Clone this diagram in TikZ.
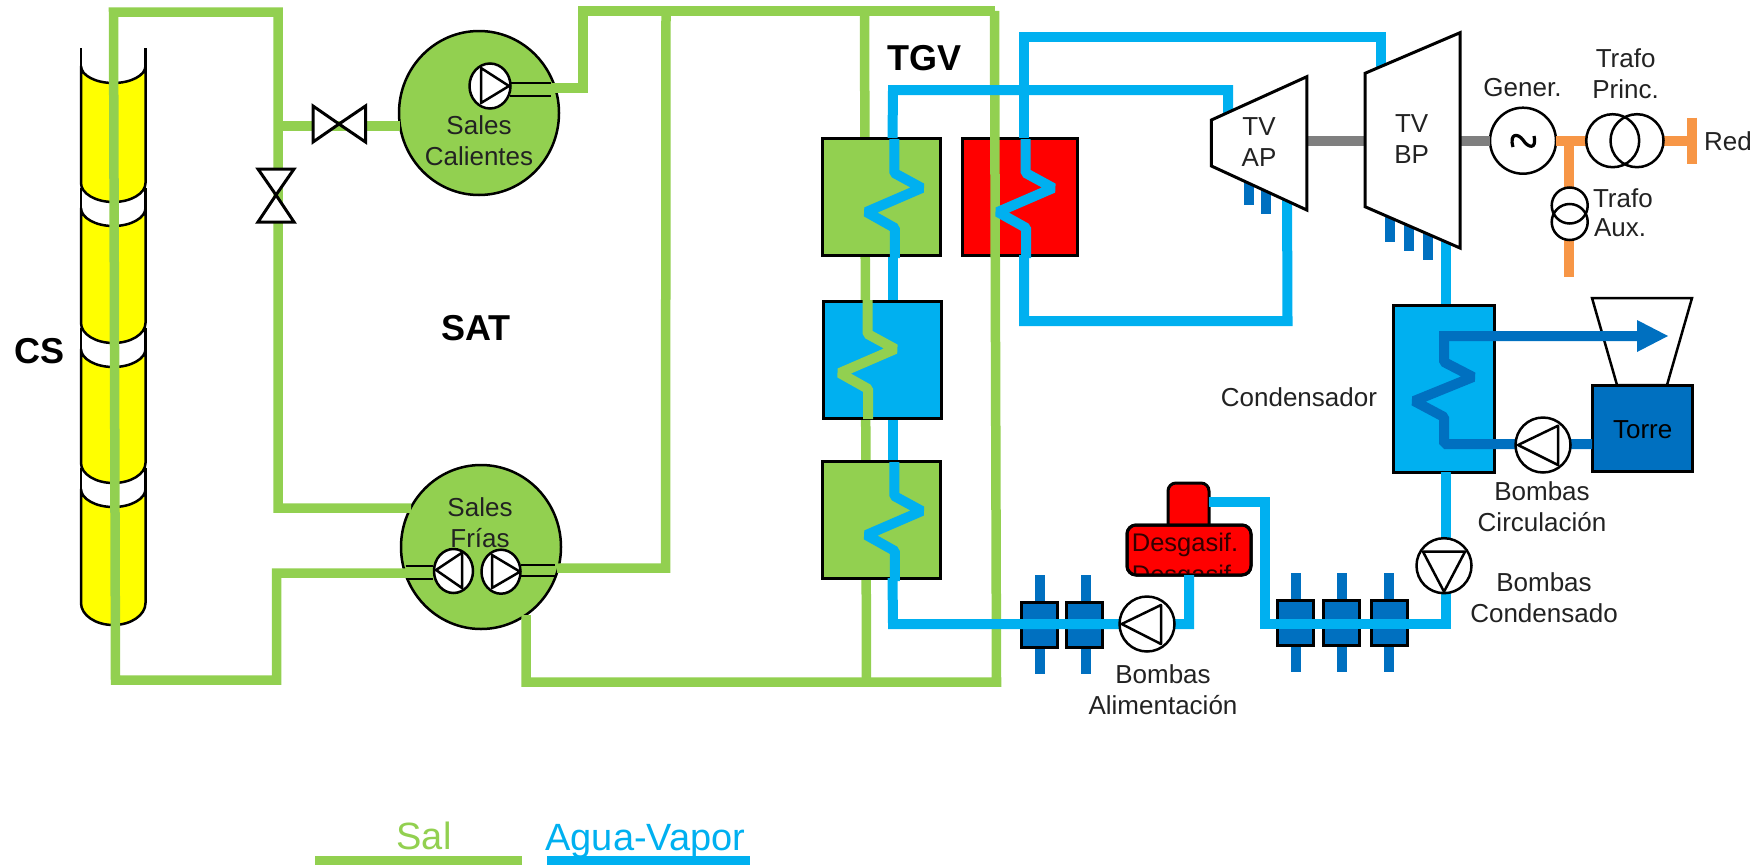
\documentclass[tikz,border=0pt]{standalone}
\usepackage{fontspec}
\setmainfont{Liberation Sans}
\usetikzlibrary{shapes.geometric}
\definecolor{salt}{RGB}{146,208,80}
\definecolor{water}{RGB}{0,176,240}
\definecolor{cool}{RGB}{0,112,192}
\definecolor{elec}{RGB}{247,150,70}
\definecolor{shaft}{RGB}{127,127,127}
\definecolor{inktext}{RGB}{34,34,34}
\definecolor{sun}{RGB}{255,255,0}
\definecolor{hotred}{RGB}{255,0,0}
\newcommand{\csseg}[5]{%
  \draw[black,line width=2.5] (81,#1) -- (81,#2) (145.5,#1) -- (145.5,#2);
  \draw[black,fill=sun,line width=2.5]
    (81,#2) .. controls (81,{#2+.55*(#3-#2)}) and (95.5,#3) .. (113.25,#3)
    .. controls (131,#3) and (145.5,{#2+.55*(#3-#2)}) .. (145.5,#2)
    -- (145.5,#4)
    .. controls (145.5,{#4+.55*(#5-#4)}) and (131,#5) .. (113.25,#5)
    .. controls (95.5,#5) and (81,{#4+.55*(#5-#4)}) .. (81,#4) -- cycle;}
\newcommand{\coil}[3]{%
  \draw[#1,line width=10,line join=bevel] (#2,#3) -- ++(0,34) -- ++(27.5,15) -- ++(-55.5,24) -- ++(28.5,16) -- ++(0,30);}
\tikzset{
  sal/.style={salt,line width=9.5,line join=miter},
  wat/.style={water,line width=10,line join=miter},
  cld/.style={cool,line width=10,line join=bevel},
  ele/.style={elec,line width=10},
  gry/.style={shaft,line width=10},
  tank/.style={ellipse,draw=black,fill=salt,line width=2.5,minimum width=160,minimum height=164,inner sep=0,outer sep=0},
  tpump/.style={ellipse,draw=black,fill=white,line width=2.5,minimum width=41,minimum height=45,inner sep=0,outer sep=0},
  pumpc/.style={circle,draw=black,fill=white,line width=2.5,minimum size=55,inner sep=0,outer sep=0},
  tri/.style={draw=black,line width=2.5,line join=round},
  hxbox/.style={rectangle,draw=black,line width=3,minimum width=118,minimum height=117,inner sep=0,outer sep=0},
  heater/.style={rectangle,draw=black,fill=cool,line width=3,minimum width=36,minimum height=45,inner sep=0,outer sep=0},
  turb/.style={draw=black,fill=white,line width=3,line join=miter},
  vlv/.style={draw=black,fill=white,line width=3,line join=miter},
  thin/.style={black,line width=1.5},
  lab/.style={text=inktext,font=\fontsize{26}{31}\selectfont,align=center,inner sep=0,outer sep=0},
  big/.style={text=black,font=\bfseries\fontsize{36}{40}\selectfont,inner sep=0,outer sep=0},
  leg/.style={font=\fontsize{38}{42}\selectfont,inner sep=0,outer sep=0},
  tra/.style={circle,draw=black,line width=2.5,inner sep=0,outer sep=0}
}
\begin{document}
\begin{tikzpicture}[x=1pt,y=-1pt]
\useasboundingbox (0,0) rectangle (1761,865);

% Solar collector
\csseg{468}{489}{507}{603}{625}
\csseg{328}{349}{367}{463}{483}
\csseg{188}{208}{226}{323}{343}
\csseg{48}{66}{83}{183}{202}

% Tanks
\node[tank] (hot) at (479,113) {};
\node[tank] (cold) at (481,547) {};

% Named pipe ends
\coordinate (hotIn) at (400,126);
\coordinate (hotOut) at (551,88);
\coordinate (coldBack) at (411,508);
\coordinate (coldBot) at (526,615);
\coordinate (pumpLeftW) at (433,573);
\coordinate (coldOut) at (557,568);

% Salt pipes, first layer
\draw[sal] (hotIn) -- (278,126);
\draw[sal] (coldBack) -- (278,508) -- (278,12) -- (113.5,12) -- (115.5,680) -- (276.5,680) -- (276.5,573) -- (pumpLeftW);
\draw[sal] (hotOut) -- (583,88) -- (583,11) -- (994.5,11);
\draw[sal] (coldOut) -- (665.5,568) -- (666,11);
\draw[sal] (864.5,11) -- (866.5,682);

% Water link between exchangers (behind the boxes)
\draw[wat] (892.5,255) -- (892.5,462);

% Heat exchangers
\node[hxbox,fill=salt] (hxa) at (881,196.5) {};
\node[hxbox,fill=water] (hxb) at (882.5,359.5) {};
\node[hxbox,fill=salt] (hxc) at (881,520) {};
\node[hxbox,fill=hotred,minimum width=115] (hxr) at (1019.5,196.5) {};

% Salt pipe over the red box
\draw[sal] (994.5,11) -- (996.5,682) -- (526,682) -- (coldBot);

% Valves
\draw[vlv] (313,106) -- (339,124) -- (313,142) -- cycle;
\draw[vlv] (365.5,106) -- (339,124) -- (365.5,142) -- cycle;
\draw[vlv] (258,169) -- (294,169) -- (276,195) -- cycle;
\draw[vlv] (258,222) -- (294,222) -- (276,195) -- cycle;

% Pumps in tanks
\draw[thin] (510,83) -- (551,83) (510,96) -- (551,96);
\node[tpump] (phot) at (490,86) {};
\draw[tri] (481,68) -- (509,86) -- (481,103) -- cycle;
\draw[thin] (405.7,566) -- (433,566) (405.7,579) -- (433,579);
\draw[thin] (521,565) -- (555,565) (521,576) -- (555,576);
\node[tpump,minimum width=39,minimum height=44] (pcl) at (453.5,571) {};
\draw[tri] (436,570) -- (462,552.7) -- (462,588) -- cycle;
\node[tpump,minimum width=39,minimum height=44] (pcr) at (501,571.7) {};
\draw[tri] (492,555) -- (520,571.7) -- (492,588) -- cycle;

% Generator, shafts, extractions and steam lines behind the turbines
\node[circle,draw=black,line width=2.5,minimum size=66,inner sep=0,outer sep=0] (gen) at (1523,140.7) {};
\coordinate (apE) at (1306,140.7);
\coordinate (bpW) at (1366,140.7);
\coordinate (bpE) at (1459,140.7);
\draw[gry] (apE) -- (bpW);
\draw[gry] (bpE) -- (gen.west);
\foreach \xx/\yy in {1248.6/205,1266/214,1389.6/241.7,1409/250.7,1428/260}{
  \draw[cool,line width=10] (\xx,170) -- (\xx,\yy);}
\coordinate (apIn) at (1228,113);
\coordinate (apOut) at (1287,190);
\coordinate (bpIn) at (1380.6,72);
\coordinate (bpOut) at (1446,230);
\draw[wat] (892.5,138) -- (893,90) -- (1228,90) -- (apIn);
\draw[wat] (1024,138) -- (1024,37) -- (1380.6,37) -- (bpIn);
\draw[wat] (1024,255) -- (1024,321) -- (1287.5,321) -- (apOut);
\draw[wat] (bpOut) -- (1446,305);

\coil{water}{894.3}{139}
\coil{water}{1025.7}{139}
\coil{salt}{867.7}{300}
\coil{water}{894.3}{462}

\draw[turb] (1211.4,120) -- (1306.8,76.7) -- (1306.8,210) -- (1211.4,166) -- cycle;
\draw[turb] (1365,73.3) -- (1460,32.7) -- (1460,248) -- (1365,206.7) -- cycle;
\node[lab] (tvap) at (1259,142) {TV\\AP};
\node[lab] (tvbp) at (1411.6,139.5) {TV\\BP};

% Electrical side
\draw[black,line width=3.2] (1513,147) .. controls (1509,133) and (1518,133) .. (1523,140) .. controls (1528,148) and (1537,150) .. (1534,136);
\coordinate (redBar) at (1691.5,140.7);
\draw[ele] (gen.east) -- (1586,140.7);
\draw[ele] (1569,140.7) -- (1569,187);
\draw[ele] (1569,240) -- (1569,276.7);
\draw[ele] (1662,140.7) -- (redBar);
\draw[ele] (1691.5,117.7) -- (1691.5,164.3);
\node[tra,minimum size=53] (tp1) at (1612.7,140.7) {};
\node[tra,minimum size=53] (tp2) at (1637,140.7) {};
\node[tra,minimum size=36] (ta1) at (1569.7,205.5) {};
\node[tra,minimum size=36] (ta2) at (1569.7,222) {};

% Condenser and tower
\node[rectangle,draw=black,fill=water,line width=3,minimum width=101,minimum height=167,inner sep=0,outer sep=0] (cond) at (1443.5,388.5) {};
\draw[black,fill=white,line width=2.5,line join=miter] (1592,298) -- (1692,298) -- (1667,385) -- (1617,385) -- cycle;
\node[rectangle,draw=black,fill=cool,line width=3,minimum width=100,minimum height=86,inner sep=0,outer sep=0] (torre) at (1642,428) {};
\draw[cld] (1592,444) -- (1444,444) -- (1444,417) -- (1414,401) -- (1473,377) -- (1444,362) -- (1444,331) (1439,336) -- (1637,336);
\fill[cool] (1637,320) -- (1668,336) -- (1637,352) -- cycle;
\node[pumpc] (pcirc) at (1543,445) {};
\draw[tri] (1518,445) -- (1558,425.7) -- (1558,465) -- cycle;

% Feedwater train
\foreach \xx in {1040,1085.7}{
  \draw[cool,line width=10] (\xx,575) -- (\xx,674);}
\node[heater] (fa) at (1039,624.5) {};
\node[heater] (fb) at (1084.5,624.5) {};
\foreach \xx in {1296,1341.5,1389}{
  \draw[cool,line width=10] (\xx,573) -- (\xx,672);}
\node[heater] (fc) at (1295.5,623) {};
\node[heater] (fd) at (1341,623) {};
\node[heater] (fe) at (1389,623) {};

\node[rectangle,rounded corners=8,draw=black,fill=hotred,line width=3,minimum width=41,minimum height=50,inner sep=0,outer sep=0] (dome) at (1188.5,508) {};
\coordinate (domeOut) at (1209,502);
\coordinate (condBot) at (1446,472);
\node[rectangle,rounded corners=9,draw=black,fill=hotred,line width=3,minimum width=124,minimum height=50,inner sep=0,outer sep=0] (dg) at (1189,550) {};
\begin{scope}
  \clip[rounded corners=9] (1127,525) rectangle (1251,575);
  \node[font=\fontsize{25.5}{30}\selectfont,text=black!80!hotred,inner sep=0] (dg1) at (1185,545) {Desgasif.};
  \node[font=\fontsize{25.5}{30}\selectfont,text=black!80!hotred,inner sep=0] (dg2) at (1185,577) {Desgasif.};
\end{scope}
\draw[black,line width=3,rounded corners=9] (1127,525) rectangle (1251,575);

\draw[wat] (condBot) -- (1446,624) -- (1265,624) -- (1265,502) -- (domeOut);
\draw[wat] (892.5,578) -- (893,624) -- (1189,624) -- (dg.south);
\node[pumpc] (pfeed) at (1147,624) {};
\draw[tri] (1121.7,624) -- (1161,605) -- (1161,644) -- cycle;
\node[pumpc] (pcond) at (1444,565.7) {};
\draw[tri] (1423,551.7) -- (1465,551.7) -- (1444,591.7) -- cycle;

% Labels
\node[lab] (lhot) at (479,140.5) {Sales\\Calientes};
\node[lab] (lcold) at (480,522.5) {Sales\\Frías};
\node[lab] (lgen) at (1522.5,88) {Gener.};
\node[lab] (ltp) at (1625.6,74) {Trafo\\Princ.};
\node[lab,anchor=west] (ltax) at (1593,198) {Trafo};
\node[lab,anchor=west] (ltax2) at (1594,228) {Aux.};
\node[lab,anchor=west] (lred) at (1704,141.5) {Red};
\node[lab,anchor=east] (lcd) at (1377,397.5) {Condensador};
\node[lab,text=black] (ltor) at (1642.7,430) {Torre};
\node[lab] (lbci) at (1542,506.7) {Bombas\\Circulación};
\node[lab] (lbco) at (1544,598) {Bombas\\Condensado};
\node[lab] (lbal) at (1163,689.5) {Bombas\\Alimentación};
\node[big] (cs) at (40,351.5) {CS};
\node[big] (sat) at (476,328) {SAT};
\node[big] (tgv) at (924,58) {TGV};

% Legend
\coordinate (la) at (315,860.5);
\coordinate (lb) at (522,860.5);
\coordinate (lc) at (547,860.5);
\coordinate (ld) at (750,860.5);
\draw[salt,line width=9] (la) -- (lb);
\draw[water,line width=9] (lc) -- (ld);
\node[leg,text=salt] (lsal) at (424,835.5) {Sal};
\node[leg,text=water] (lagua) at (645.5,841) {Agua-Vapor};
\end{tikzpicture}
\end{document}
